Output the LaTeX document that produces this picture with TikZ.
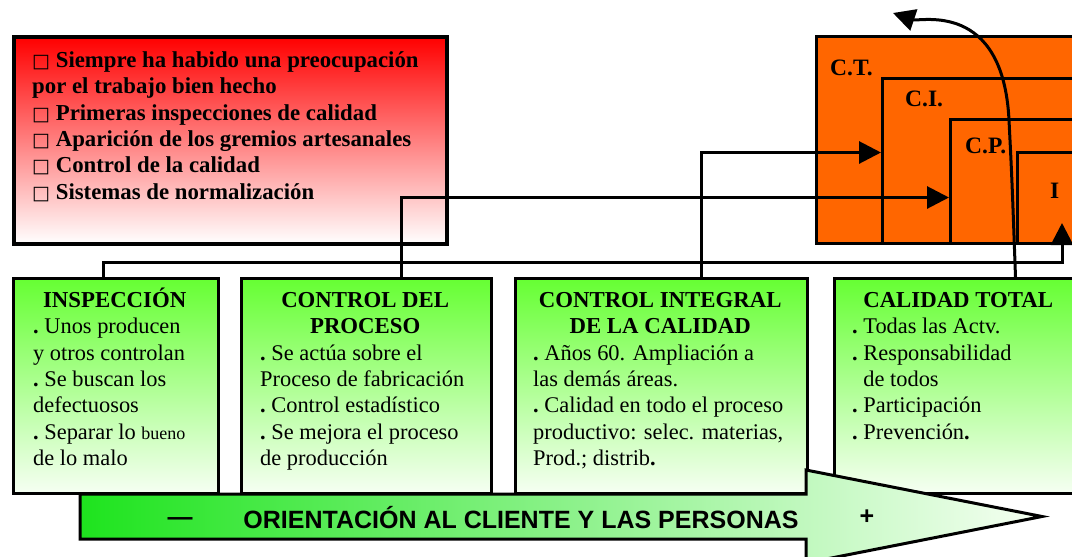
\documentclass[tikz,border=0pt]{standalone}
\usepackage{fontspec}
\setmainfont{Liberation Serif}
\setsansfont{Liberation Sans}
\newfontfamily\symf{DejaVu Sans}
\usetikzlibrary{arrows.meta,positioning,calc}
\definecolor{rojo}{RGB}{255,0,0}
\definecolor{naranja}{RGB}{255,102,0}
\definecolor{verde}{RGB}{102,255,51}
\definecolor{verdeb}{RGB}{246,255,243}
\definecolor{verdef}{RGB}{30,228,30}
\newcommand{\dotb}{{\bfseries .}}
\newcommand{\cuad}{{\symf\fontsize{19}{20}\selectfont □}}
\newcommand{\hd}[2]{\makebox[#1pt]{\fontsize{22.8}{26.4}\selectfont\bfseries #2}}
\newcommand{\tope}{\rule{0pt}{21pt}}
\tikzset{ rbox/.style = { draw
                        , line width   = 4pt
                        , top color    = rojo
                        , bottom color = white
                        , anchor       = north west
                        , inner sep    = 0pt
                        },
          obox/.style = { draw
                        , line width = 3pt
                        , fill       = naranja
                        , anchor     = north west
                        , inner sep  = 0pt
                        },
          gbox/.style = { draw
                        , line width     = 3pt
                        , top color      = verde
                        , bottom color   = verdeb
                        , anchor         = north west
                        , inner sep      = 0pt
                        , minimum height = 215pt
                        },
          txt/.style  = { align     = left
                        , inner sep = 0pt
                        , anchor    = north west
                        , font      = \fontsize{22.4}{26.4}\selectfont
                        },
          olab/.style = { inner sep = 0pt
                        , anchor    = west
                        , font      = \fontsize{23.5}{26}\selectfont\bfseries
                        },
          orie/.style = { inner sep = 0pt
                        , font      = \sffamily\bfseries\fontsize{25}{28}\selectfont
                        },
          conn/.style = { draw
                        , line width = 3pt
                        , -{Triangle[length=22pt,width=22pt]}
                        }
        }
\begin{document}
\begin{tikzpicture}[x=1pt,y=-1pt]
    \clip (0,0) rectangle (1072,557);
    % niveles de calidad
    \node[obox, minimum width=300pt, minimum height=207pt] (ct) at (815,35)  {};
    \node[obox, minimum width=240pt, minimum height=165pt] (ci) at (881,77)  {};
    \node[obox, minimum width=180pt, minimum height=124pt] (cp) at (949,118) {};
    \node[obox, minimum width=120pt, minimum height=91pt]  (ii) at (1016,151) {};
    \node[olab] (lct) at ([shift={(15pt,-33pt)}]ct.north west) {C.T.};
    \node[olab] (lci) at ([shift={(24pt,-22pt)}]ci.north west) {C.I.};
    \node[olab] (lcp) at ([shift={(16pt,-28pt)}]cp.north west) {C.P.};
    \node[olab] (lii) at ([shift={(34pt,-40pt)}]ii.north west) {I};
    % antecedentes
    \node[rbox, minimum width=433pt, minimum height=207pt] (ante) at (12,35) {};
    \node[txt, font=\fontsize{22.8}{26.4}\selectfont\bfseries] (antet)
        at ([shift={(20pt,-11pt)}]ante.north west)
        {\tope\cuad\ Siempre ha habido una preocupación\\
         por el trabajo bien hecho\\
         \cuad\ Primeras inspecciones de calidad\\
         \cuad\ Aparición de los gremios artesanales\\
         \cuad\ Control de la calidad\\
         \cuad\ Sistemas de normalización};
    % etapas
    \node[gbox, minimum width=205pt] (insp)  at (12,277)  {};
    \node[gbox, minimum width=250pt] (proc)  at (240,277) {};
    \node[gbox, minimum width=292pt] (integ) at (514,277) {};
    \node[gbox, minimum width=250pt] (ctot)  at (833,277) {};
    \node[txt] (inspt) at ([shift={(21pt,-9pt)}]insp.north west)
        {\tope\hd{163}{INSPECCIÓN}\\
         \dotb\ Unos producen\\
         y otros controlan\\
         \dotb\ Se buscan los\\
         defectuosos\\
         \dotb\ Separar lo {\fontsize{18}{20}\selectfont bueno}\\
         de lo malo};
    \node[txt] (proct) at ([shift={(20pt,-9pt)}]proc.north west)
        {\tope\hd{210}{CONTROL DEL}\\
         \hd{210}{PROCESO}\\
         \dotb\ Se actúa sobre el\\
         Proceso de fabricación\\
         \dotb\ Control estadístico\\
         \dotb\ Se mejora el proceso\\
         de producción};
    \node[txt] (integt) at ([shift={(19pt,-9pt)}]integ.north west)
        {\tope\hd{254}{CONTROL INTEGRAL}\\
         \hd{254}{DE LA CALIDAD}\\
         \dotb\ Años 60. Ampliación a\\
         las demás áreas.\\
         \dotb\ Calidad en todo el proceso\\
         productivo: selec. materias,\\
         Prod.; distrib\dotb};
    \node[txt] (ctott) at ([shift={(19pt,-9pt)}]ctot.north west)
        {\tope\hd{212}{CALIDAD TOTAL}\\
         \dotb\ Todas las Actv.\\
         \dotb\ Responsabilidad\\
         \phantom{\dotb\ }de todos\\
         \dotb\ Participación\\
         \dotb\ Prevención\dotb};
    % conexiones
    \coordinate (esq) at (1062,262);
    \draw[conn] ([xshift=-12.5pt]insp.north) |- (esq) -- ($(esq |- ii.south)+(0,-22)$);
    \draw[conn] ([xshift=35pt]proc.north) |- ([yshift=-16pt]cp.west);
    \draw[conn] ([xshift=40pt]integ.north) |- ([yshift=8.5pt]ci.west);
    \draw[conn] ([xshift=56pt]ctot.north) .. controls (1012,180) .. (1009,120)
        .. controls (1003,0) and (920,22) .. ([shift={(78pt,22pt)}]ct.north west);
    % orientacion
    \draw[line width=3pt, left color=verdef, right color=verdeb]
        (80,494) -- (806,494) -- (806,470) -- (1042,516.5) -- (806,563)
        -- (806,539) -- (80,539) -- cycle;
    \node[orie] (menos)  at (180,522) {—};
    \node[orie] (orient) at (521,518) {ORIENTACIÓN AL CLIENTE Y LAS PERSONAS};
    \node[orie] (mas)    at (867,517) {+};
\end{tikzpicture}
\end{document}
